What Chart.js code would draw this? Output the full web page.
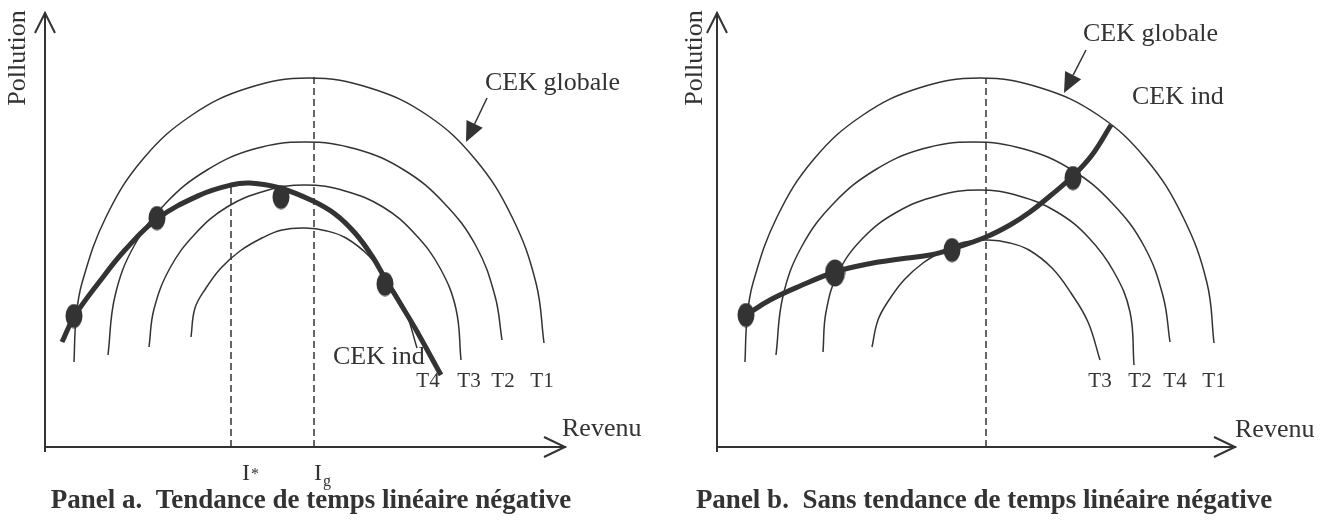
<!DOCTYPE html>
<html>
<head>
<meta charset="utf-8">
<script src="https://cdn.jsdelivr.net/npm/chart.js@4.4.1/dist/chart.umd.min.js"></script>
<style>
  html, body { margin: 0; padding: 0; background: #ffffff; overflow: hidden; }
  #wrap { position: relative; width: 1329px; height: 522px; }
  canvas { position: absolute; top: 0; }
  #ca { left: 0; }
  #cb { left: 664px; }
</style>
</head>
<body>
<div id="wrap">
  <canvas id="ca" width="664" height="522"></canvas>
  <canvas id="cb" width="665" height="522"></canvas>
</div>
<script>
// ===================== DATA (x = Revenu, y = Pollution, arbitrary units) =====================
// Panel a : individual time curves T1..T4, CEK ind (thick), highlighted points
const aT1 = [[29,85],[31,128],[37,164],[61,230],[98,288],[147,332],[203,359],[264,369],[325,359],[382,332],[430,288],[467,230],[491,164],[499,104]];
const aT2 = [[63,92],[70,151],[89,201],[121,244],[162,277],[209,298],[260,305],[311,298],[359,277],[399,244],[431,201],[450,151],[457,107]];
const aT3 = [[104,100],[109,138],[125,179],[150,213],[182,240],[220,256],[260,262],[300,256],[338,240],[370,213],[395,179],[411,138],[416,87]];
const aT4 = [[146,110],[150,139],[161,159],[176,179],[195,196],[217,209],[237,217],[260,219],[282,216],[301,209],[324,191],[343,166],[360,137],[372,99]];
const aInd = [[17,105],[29,130],[55,166],[80,197],[112,228],[155,252],[186,262],[205,264],[235,259],[268,246],[290,233],[310,214],[327,191],[341,167],[355,144],[370,119],[396,72]];
const aDots = [[29,131],[112,229],[236,250],[340,163]];
const aRefX = [186, 269];            // I*, Ig
const aRefTop = [262, 371];
const aRefLabels = ['I*', 'Ig'];
const aTimeLabels = ['T4', 'T3', 'T2', 'T1'];

// Panel b
const bT1 = [[28,85],[30,128],[36,164],[60,230],[97,288],[146,332],[202,359],[263,369],[324,359],[381,332],[429,288],[466,230],[490,164],[497,104]];
const bT4 = [[59,92],[66,151],[85,201],[117,244],[158,277],[205,298],[256,305],[307,298],[355,277],[395,244],[427,201],[446,151],[453,105]];
const bT2 = [[106,95],[109,135],[121,174],[146,209],[180,235],[220,251],[262,257],[302,251],[340,235],[372,209],[397,175],[413,135],[417,82]];
const bT3 = [[155,100],[161,127],[172,147],[187,167],[206,184],[228,197],[248,205],[271,207],[293,204],[312,197],[335,179],[354,154],[371,125],[383,87]];
const bInd = [[29,132],[53,147],[83,161],[118,175],[151,183],[183,188],[213,192],[235,198],[269,210],[293,222],[313,235],[333,251],[356,271],[375,292],[394,322]];
const bDots = [[29,132],[118,174],[235,197],[356,269]];
const bRefX = [269];
const bRefTop = [369];
const bTimeLabels = ['T3', 'T2', 'T4', 'T1'];

const axisTitles = { x: 'Revenu', y: 'Pollution' };
const titles = ['Panel a.  Tendance de temps linéaire négative', 'Panel b.  Sans tendance de temps linéaire négative'];

// ===================== STYLE / LAYOUT =====================
const INK = '#333333';
const SERIF = '"Liberation Serif", "Times New Roman", serif';

function makeDot(w, h) {
  const c = document.createElement('canvas');
  c.width = w; c.height = h;
  const g = c.getContext('2d');
  g.fillStyle = INK;
  g.beginPath();
  g.ellipse(w / 2, h / 2, w / 2 - 0.5, h / 2 - 0.5, 0, 0, Math.PI * 2);
  g.fill();
  return c;
}
const dotSmall = makeDot(18, 25);
const dotBig = makeDot(21, 28);

const pts = arr => arr.map(p => ({ x: p[0], y: p[1] }));

function arcDs(arr) {
  return { data: pts(arr), showLine: true, borderColor: INK, borderWidth: 1.5, tension: 0.4, pointRadius: 0, fill: false, order: 3, clip: false };
}
function indDs(arr) {
  return { data: pts(arr), showLine: true, borderColor: INK, borderWidth: 5, tension: 0.4, pointRadius: 0, fill: false, order: 1, clip: false, borderCapStyle: 'butt' };
}
function dotDs(arr, styles) {
  return { data: pts(arr), showLine: false, pointStyle: styles, pointRadius: 10, backgroundColor: INK, borderWidth: 0, order: 0, clip: false };
}
function refDs(x, top) {
  return { data: [{ x: x, y: 0 }, { x: x, y: top }], showLine: true, borderColor: INK, borderWidth: 1.5, borderDash: [7, 4], pointRadius: 0, order: 4, clip: false };
}

function makeAnnot(cfg) {
  return {
    id: 'annot',
    afterDatasetsDraw(chart) {
      const ctx = chart.ctx, ca = chart.chartArea;
      const X = v => chart.scales.x.getPixelForValue(v);
      const Y = v => chart.scales.y.getPixelForValue(v);
      ctx.save();
      ctx.strokeStyle = INK; ctx.fillStyle = INK;
      // axis arrow heads (open V)
      ctx.lineWidth = 2; ctx.lineJoin = 'miter'; ctx.lineCap = 'butt';
      ctx.beginPath();
      ctx.moveTo(ca.left - 10, ca.top + 20); ctx.lineTo(ca.left, ca.top); ctx.lineTo(ca.left + 10, ca.top + 20);
      ctx.stroke();
      ctx.beginPath();
      ctx.moveTo(ca.right - 21, ca.bottom - 10); ctx.lineTo(ca.right, ca.bottom); ctx.lineTo(ca.right - 21, ca.bottom + 10);
      ctx.stroke();
      ctx.beginPath(); ctx.moveTo(ca.left, ca.bottom); ctx.lineTo(ca.left, ca.bottom + 5); ctx.stroke();

      // pointer arrow to "CEK globale"
      const sx = X(cfg.arrow[0]), sy = Y(cfg.arrow[1]), tx = X(cfg.arrow[2]), ty = Y(cfg.arrow[3]);
      const dx = tx - sx, dy = ty - sy, L = Math.hypot(dx, dy), ux = dx / L, uy = dy / L;
      const bx = tx - ux * 20, by = ty - uy * 20;
      ctx.lineWidth = 1.5;
      ctx.beginPath(); ctx.moveTo(sx, sy); ctx.lineTo(bx, by); ctx.stroke();
      ctx.beginPath();
      ctx.moveTo(tx, ty);
      ctx.lineTo(bx - uy * 9, by + ux * 9);
      ctx.lineTo(bx + uy * 9, by - ux * 9);
      ctx.closePath(); ctx.fill();

      // texts
      const txt = (s, x, y, size, align, base, weight) => {
        ctx.font = (weight || '') + ' ' + size + 'px ' + SERIF;
        ctx.textAlign = align; ctx.textBaseline = base;
        ctx.fillText(s, x, y);
      };
      txt('CEK globale', X(cfg.globale[0]), Y(cfg.globale[1]), 26, 'left', 'middle');
      txt('CEK ind', X(cfg.ind[0]), Y(cfg.ind[1]), 26, 'left', 'middle');
      cfg.tLabels.forEach((s, i) => txt(s, X(cfg.tX[i]), Y(cfg.tY), 21, 'center', 'middle'));
      txt(axisTitles.x, X(cfg.revenu[0]), Y(cfg.revenu[1]), 26, 'left', 'middle');

      // vertical axis title
      ctx.save();
      ctx.translate(cfg.pollX, cfg.pollY);
      ctx.rotate(-Math.PI / 2);
      txt(axisTitles.y, 0, 0, 26, 'center', 'alphabetic');
      ctx.restore();

      // reference labels under the axis (I*, Ig)
      (cfg.refLabels || []).forEach((s, i) => {
        const x0 = X(cfg.refLabelX[i]);
        txt(s[0], x0, cfg.refBase, 24, 'left', 'alphabetic');
        ctx.font = '24px ' + SERIF;
        const w = ctx.measureText(s[0]).width;
        if (s[1] === '*') txt('*', x0 + w + 1, cfg.refBase - 1, 16, 'left', 'alphabetic');
        else txt(s.slice(1), x0 + w + 1, cfg.refBase + 6, 16, 'left', 'alphabetic');
      });

      // panel title
      txt(cfg.title, cfg.titleX, cfg.titleBase, 27, 'center', 'alphabetic', 'bold');
      ctx.restore();
    }
  };
}

function makeChart(id, datasets, xMax, pad, cfg) {
  return new Chart(document.getElementById(id), {
    type: 'scatter',
    data: { datasets: datasets },
    options: {
      responsive: false,
      devicePixelRatio: 1,
      animation: false,
      events: [],
      layout: { padding: pad },
      plugins: { legend: { display: false }, tooltip: { enabled: false }, title: { display: false } },
      elements: { line: { borderJoinStyle: 'round' } },
      scales: {
        x: {
          type: 'linear', min: 0, max: xMax,
          grid: { display: false, drawTicks: false },
          ticks: { display: false },
          border: { display: true, color: INK, width: 2 }
        },
        y: {
          type: 'linear', min: 0, max: 434,
          grid: { display: false, drawTicks: false },
          ticks: { display: false },
          border: { display: true, color: INK, width: 2 }
        }
      }
    },
    plugins: [makeAnnot(cfg)]
  });
}

// Panel a
makeChart('ca', [
  dotDs(aDots, [dotSmall, dotSmall, dotSmall, dotSmall]),
  indDs(aInd),
  arcDs(aT1), arcDs(aT2), arcDs(aT3), arcDs(aT4),
  refDs(aRefX[0], aRefTop[0]), refDs(aRefX[1], aRefTop[1])
], 520, { left: 45, top: 13, right: 99, bottom: 75 }, {
  arrow: [442, 349, 421, 305],
  globale: [440, 364],
  ind: [288, 90],
  tLabels: aTimeLabels, tX: [383, 424, 458, 497], tY: 66,
  revenu: [517, 18],
  pollX: 25, pollY: 58,
  refLabels: aRefLabels, refLabelX: [197, 269], refBase: 480,
  title: titles[0], titleX: 311, titleBase: 508
});

// Panel b
makeChart('cb', [
  dotDs(bDots, [dotSmall, dotBig, dotSmall, dotSmall]),
  indDs(bInd),
  arcDs(bT1), arcDs(bT4), arcDs(bT2), arcDs(bT3),
  refDs(bRefX[0], bRefTop[0])
], 518, { left: 53, top: 13, right: 94, bottom: 75 }, {
  arrow: [369, 397, 347, 354],
  globale: [366, 413],
  ind: [415, 350],
  tLabels: bTimeLabels, tX: [383, 423, 458, 497], tY: 66,
  revenu: [518, 17],
  pollX: 38, pollY: 58,
  refLabels: [], refLabelX: [], refBase: 480,
  title: titles[1], titleX: 320, titleBase: 508
});
</script>
</body>
</html>
